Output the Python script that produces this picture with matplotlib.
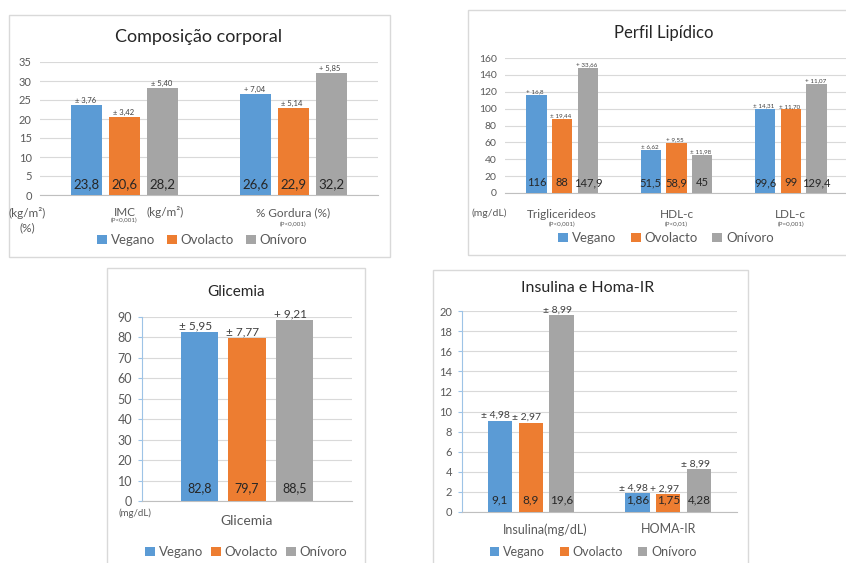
import matplotlib
matplotlib.use('Agg')
import matplotlib.pyplot as plt
import matplotlib.transforms as mtransforms
import numpy as np
from matplotlib.patches import Rectangle

plt.rcParams['font.family'] = ['Lato', 'DejaVu Sans']

# groups and colours shared by all four charts
groups = ['Vegano', 'Ovolacto', 'Onívoro']
colors = ['#5B9BD5', '#ED7D31', '#A5A5A5']

# body composition
comp_cats = ['IMC', '% Gordura (%)']
comp_vals = [[23.8, 26.6], [20.6, 22.9], [28.2, 32.2]]
comp_sd = [['± 3,76', '+ 7,04'], ['± 3,42', '± 5,14'], ['± 5,40', '+ 5,85']]
comp_p = ['(P<0,001)', '(P<0,001)']

# lipid profile
lip_cats = ['Triglicerideos', 'HDL-c', 'LDL-c']
lip_vals = [[116, 51.5, 99.6], [88, 58.9, 99], [147.9, 45, 129.4]]
lip_sd = [['+ 16,8', '± 6,62', '± 14,31'], ['± 19,44', '+ 9,55', '± 11,70'],
          ['+ 33,66', '± 11,98', '+ 11,07']]
lip_p = ['(P<0,001)', '(P<0,01)', '(P=0,001)']

# glycaemia
gli_cats = ['Glicemia']
gli_vals = [[82.8], [79.7], [88.5]]
gli_sd = [['± 5,95'], ['± 7,77'], ['+ 9,21']]

# insulin and HOMA-IR
ins_cats = ['Insulina(mg/dL)', 'HOMA-IR']
ins_vals = [[9.1, 1.86], [8.9, 1.75], [19.6, 4.28]]
ins_sd = [['± 4,98', '± 4,98'], ['± 2,97', '+ 2,97'], ['± 8,99', '± 8,99']]

W, H = 846, 563
fig = plt.figure(figsize=(W / 100, H / 100), dpi=100)
fig.patch.set_facecolor('white')


def box(x0, y0, x1, y1):
    return [x0 / W, 1 - y1 / H, (x1 - x0) / W, (y1 - y0) / H]


def fmt(v):
    return ('%g' % v).replace('.', ',')


def frame(x0, y0, x1, y1):
    fig.patches.append(Rectangle((x0 / W, 1 - y1 / H), (x1 - x0) / W, (y1 - y0) / H,
                                 transform=fig.transFigure, fill=False,
                                 edgecolor='#D9D9D9', linewidth=1.0))


def bar_panel(rect, cats, vals, sds, ymax, ystep, val_fs, sd_fs, tick_fs,
              cat_fs, cat_pad, sd_dx=-1, left_spine=False):
    ax = fig.add_axes(box(*rect))
    x = np.arange(len(cats))
    width, step = 0.178, 0.225
    for i, g in enumerate(groups):
        pos = x + (i - 1) * step
        ax.bar(pos, vals[i], width, color=colors[i], label=g, zorder=3)
        for p, v, s in zip(pos, vals[i], sds[i]):
            ax.text(p, ymax * 0.035, fmt(v), ha='center', va='bottom',
                    fontsize=val_fs, color='#262626', zorder=4)
            ax.annotate(s, (p, v), xytext=(sd_dx, 0.5), textcoords='offset points',
                        ha='center', va='bottom', fontsize=sd_fs, color='#404040')
    ax.set_xlim(-0.5, len(cats) - 0.5)
    ax.set_ylim(0, ymax)
    ax.set_yticks(np.arange(0, ymax + 0.1, ystep))
    ax.set_xticks(x)
    ax.set_xticklabels(cats, fontsize=cat_fs, color='#595959')
    ax.tick_params(axis='x', length=0, pad=cat_pad)
    ax.tick_params(axis='y', labelsize=tick_fs, colors='#595959', length=0, pad=6)
    ax.grid(axis='y', color='#D9D9D9', linewidth=0.8, zorder=0)
    for s in ['top', 'right', 'left']:
        ax.spines[s].set_visible(False)
    ax.spines['bottom'].set_color('#BFBFBF')
    if left_spine:
        ax.spines['left'].set_visible(True)
        ax.spines['left'].set_color('#9DC3E6')
        ax.tick_params(axis='y', length=3, color='#9DC3E6', pad=4)
    ax.set_facecolor('none')
    return ax


def legend(ax, cx, cy, fs, colsp):
    ax.legend(loc='center', bbox_to_anchor=(cx / W, 1 - cy / H),
              bbox_transform=fig.transFigure, ncol=3, frameon=False,
              fontsize=fs, handlelength=0.75, handleheight=0.75,
              handletextpad=0.3, columnspacing=colsp, labelcolor='#595959')


# Composição corporal
frame(9, 15, 390, 257)
fig.text(199 / W, 1 - 37 / H, 'Composição corporal', ha='center', va='center',
         fontsize=13, color='#262626')
ax1 = bar_panel((40, 62, 378, 195), comp_cats, comp_vals, comp_sd, 35, 5,
                9.5, 5.5, 8, 8.5, 9)
for c, p, dy in zip(range(len(comp_cats)), comp_p, [-18, -21.5]):
    ax1.annotate(p, (c, 0), xycoords=('data', 'axes fraction'), xytext=(0, dy),
                 textcoords='offset points', ha='center', va='center',
                 fontsize=4.5, color='#595959')
ax1.annotate('(kg/m²)', (0, 0), xycoords=('data', 'axes fraction'),
             xytext=(29, -12.5), textcoords='offset points', ha='center',
             va='center', fontsize=8.5, color='#595959')
fig.text(27 / W, 1 - 213 / H, '(kg/m²)', ha='center', va='center',
         fontsize=8.5, color='#595959')
fig.text(27 / W, 1 - 228 / H, '(%)', ha='center', va='center',
         fontsize=8.5, color='#595959')
legend(ax1, 202, 240, 9.5, 0.9)

# Perfil Lipídico
frame(468, 10, 852, 255)
fig.text(664 / W, 1 - 33 / H, 'Perfil Lipídico', ha='center', va='center',
         fontsize=12, color='#262626')
ax2 = bar_panel((505, 58, 848, 193), lip_cats, lip_vals, lip_sd, 160, 20,
                8, 4.5, 7.5, 8.5, 11.5)
for c, p in zip(range(len(lip_cats)), lip_p):
    ax2.annotate(p, (c, 0), xycoords=('data', 'axes fraction'), xytext=(0, -23),
                 textcoords='offset points', ha='center', va='center',
                 fontsize=4.5, color='#595959')
fig.text(489 / W, 1 - 213 / H, '(mg/dL)', ha='center', va='center',
         fontsize=7.5, color='#595959')
legend(ax2, 666, 238, 9.5, 1.1)

# Glicemia
frame(107, 268, 365, 570)
fig.text(236 / W, 1 - 292 / H, 'Glicemia', ha='center', va='center',
         fontsize=11, color='#262626')
ax3 = bar_panel((142, 317, 352, 501), gli_cats, gli_vals, gli_sd, 90, 10,
                9, 8.5, 9, 10, 10, sd_dx=-3, left_spine=True)
fig.text(135 / W, 1 - 513 / H, '(mg/dL)', ha='center', va='center',
         fontsize=7, color='#595959')
legend(ax3, 246, 552, 9.5, 0.6)

# Insulina e Homa-IR
frame(433, 270, 748, 570)
fig.text(588 / W, 1 - 288 / H, 'Insulina e Homa-IR', ha='center', va='center',
         fontsize=11.5, color='#262626')
ax4 = bar_panel((462, 311, 737, 512), ins_cats, ins_vals, ins_sd, 20, 2,
                8.5, 7.5, 8, 9, 8, sd_dx=-3, left_spine=True)
# the insulin label sits a little right of its group
lab = ax4.get_xticklabels()[0]
lab.set_transform(lab.get_transform() +
                  mtransforms.ScaledTranslation(14 / 100, 0, fig.dpi_scale_trans))
legend(ax4, 593, 552, 9, 1.2)

fig.savefig('out.png', dpi=100)
